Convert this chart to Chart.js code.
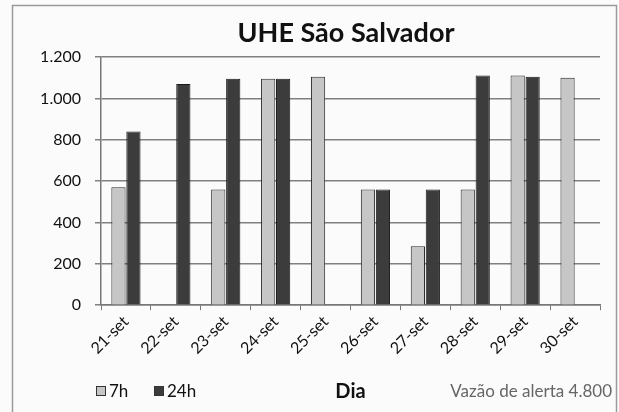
<!DOCTYPE html>
<html>
<head>
<meta charset="utf-8">
<script src="https://cdn.jsdelivr.net/npm/chart.js@4"></script>
<style>
  html, body { margin: 0; padding: 0; background: #fbfbfb; }
  #wrap { width: 619px; height: 412px; }
</style>
</head>
<body>
<div id="wrap"><canvas id="vazaoChart" width="619" height="412"></canvas></div>
<script>
const dias = ['21-set', '22-set', '23-set', '24-set', '25-set', '26-set', '27-set', '28-set', '29-set', '30-set'];
const vazao7h = [570, null, 560, 1095, 1105, 560, 285, 560, 1110, 1100];
const vazao24h = [840, 1070, 1095, 1095, null, 560, 560, 1110, 1105, null];
const yTicks = [0, 200, 400, 600, 800, 1000, 1200];

const fontFamily = 'Lato, "Open Sans", sans-serif';

// frame, title, legend and alert note drawn around the plot
const extras = {
    id: 'extras',
    beforeDraw(chart) {
        const c = chart.ctx;
        c.save();
        c.fillStyle = '#fbfbfb';
        c.fillRect(0, 0, chart.width, chart.height);
        c.strokeStyle = '#9a9a9a';
        c.lineWidth = 1.5;
        c.strokeRect(12.5, 5.5, 604, 420);
        c.restore();
    },
    afterDraw(chart) {
        const c = chart.ctx;
        c.save();
        c.fillStyle = '#111';
        c.font = 'bold 27px ' + fontFamily;
        c.textAlign = 'center';
        c.textBaseline = 'middle';
        c.fillText('UHE São Salvador', 346, 33);

        // legend
        c.font = '17px ' + fontFamily;
        c.textAlign = 'left';
        let x = 96;
        const y = 391;
        chart.data.datasets.forEach(ds => {
            c.fillStyle = ds.backgroundColor;
            c.fillRect(x, y - 5, 9, 9);
            c.strokeStyle = '#333';
            c.lineWidth = 1;
            c.strokeRect(x + 0.5, y - 4.5, 9, 9);
            c.fillStyle = '#111';
            c.fillText(ds.label, x + 13, y + 1);
            x += 58;
        });

        c.fillStyle = '#666';
        c.font = '17px ' + fontFamily;
        c.textAlign = 'right';
        c.fillText('Vazão de alerta 4.800', 612, y + 1);
        c.restore();
    }
};

new Chart(document.getElementById('vazaoChart'), {
    type: 'bar',
    data: {
        labels: dias,
        datasets: [
            {
                label: '7h',
                data: vazao7h,
                backgroundColor: '#c6c6c6',
                borderColor: '#2a2a2a',
                borderWidth: 1
            },
            {
                label: '24h',
                data: vazao24h,
                backgroundColor: '#3c3c3c',
                borderColor: '#1a1a1a',
                borderWidth: 1
            }
        ]
    },
    options: {
        responsive: false,
        animation: false,
        layout: { padding: { left: 12, right: 19, top: 57, bottom: 8 } },
        datasets: { bar: { categoryPercentage: 0.6, barPercentage: 0.95 } },
        plugins: {
            legend: { display: false },
            title: { display: false },
            tooltip: { enabled: false }
        },
        scales: {
            x: {
                grid: { display: true, drawOnChartArea: false, tickLength: 5, color: '#777', offset: true },
                border: { color: '#777', width: 1.5 },
                ticks: {
                    minRotation: 45, maxRotation: 45, padding: 2,
                    color: '#111', font: { family: fontFamily, size: 16 }
                },
                title: {
                    display: true, text: 'Dia', color: '#111',
                    font: { family: fontFamily, size: 20, weight: 'bold' },
                    padding: { top: 20, bottom: 0 }
                }
            },
            y: {
                min: 0, max: 1200,
                afterFit(s) { s.width = 89; },
                afterBuildTicks(s) { s.ticks = yTicks.map(v => ({ value: v })); },
                grid: { color: '#808080', lineWidth: 1.5, tickLength: 6 },
                border: { color: '#777', width: 1.5 },
                ticks: {
                    padding: 14, color: '#111',
                    font: { family: fontFamily, size: 16 },
                    callback: v => v.toLocaleString('pt-BR')
                }
            }
        }
    },
    plugins: [extras]
});
</script>
</body>
</html>
